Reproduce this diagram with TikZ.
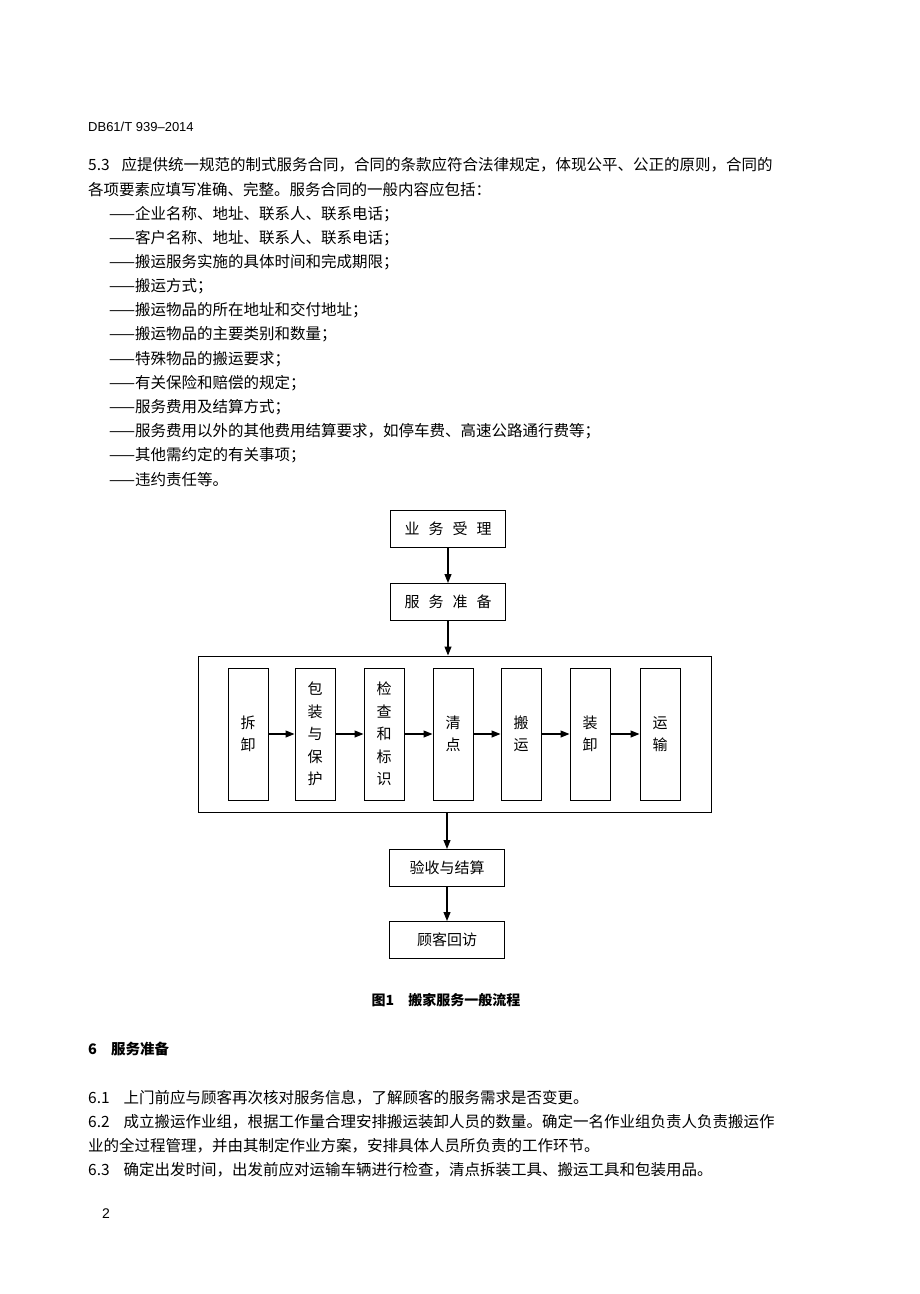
\documentclass[tikz,border=0pt]{standalone}
\usepackage{fontspec}
\setmainfont{Liberation Sans}
\newfontfamily\cjk{Noto Sans CJK SC}
\usetikzlibrary{arrows.meta}
\begin{document}
\begin{tikzpicture}[x=1pt,y=-1pt,
  txt/.style={anchor=west,inner sep=0pt,font=\fontsize{15.5}{16}\cjk},
  box/.style={draw,line width=1pt,minimum width=115pt,minimum height=37pt,inner sep=0pt,font=\fontsize{15}{16}\cjk},
  stepbox/.style={draw,line width=1pt,minimum width=40pt,minimum height=132pt,inner sep=0pt,align=center,font=\fontsize{15}{22.5}\cjk},
  arr/.style={-{Triangle[length=9pt,width=7pt]},line width=1.1pt}]
\useasboundingbox (0,0) rectangle (920,1294);
\node[anchor=west,inner sep=0pt,font=\fontsize{13}{14}\selectfont] (hd) at (88,127) {DB61/T 939--2014};
\node[txt] (p1) at (88,165) {5.3\hspace{12pt}应提供统一规范的制式服务合同，合同的条款应符合法律规定，体现公平、公正的原则，合同的};
\node[txt] (p2) at (88,190) {各项要素应填写准确、完整。服务合同的一般内容应包括：};
\foreach \t [count=\i] in {企业名称、地址、联系人、联系电话；,客户名称、地址、联系人、联系电话；,搬运服务实施的具体时间和完成期限；,搬运方式；,搬运物品的所在地址和交付地址；,搬运物品的主要类别和数量；,特殊物品的搬运要求；,有关保险和赔偿的规定；,服务费用及结算方式；,服务费用以外的其他费用结算要求，如停车费、高速公路通行费等；,其他需约定的有关事项；,违约责任等。}
  \node[txt] (li\i) at (109,190+24.1*\i) {——\t};
% flowchart
\node[box] (a) at (448,529) {业\hspace{9pt}务\hspace{9pt}受\hspace{9pt}理};
\node[box] (b) at (448,602) {服\hspace{9pt}务\hspace{9pt}准\hspace{9pt}备};
\node[draw,line width=1pt,minimum width=513pt,minimum height=156pt,inner sep=0pt] (big) at (454.5,734) {};
\node[stepbox] (s1) at (248,734) {拆\\卸};
\node[stepbox] (s2) at (315,734) {包\\装\\与\\保\\护};
\node[stepbox] (s3) at (384,734) {检\\查\\和\\标\\识};
\node[stepbox] (s4) at (453,734) {清\\点};
\node[stepbox] (s5) at (521,734) {搬\\运};
\node[stepbox] (s6) at (590,734) {装\\卸};
\node[stepbox] (s7) at (660,734) {运\\输};
\foreach \p/\q in {s1/s2,s2/s3,s3/s4,s4/s5,s5/s6,s6/s7} \draw[arr] (\p) -- (\q);
\node[box] (c) at (447,868) {验收与结算};
\node[box] (d) at (447,940) {顾客回访};
\draw[arr] (a) -- (b);
\draw[arr] (b.south) -- (b.south|-big.north);
\draw[arr] (c.north|-big.south) -- (c.north);
\draw[arr] (c) -- (d);
\node[inner sep=0pt,font=\fontsize{14}{15}\cjk\bfseries] (cap) at (446,1000) {图1\hspace{14pt}搬家服务一般流程};
\node[txt,font=\fontsize{14.5}{15}\cjk\bfseries] (h6) at (88,1049) {6\hspace{14pt}服务准备};
\node[txt] (q1) at (88,1098) {6.1\hspace{14pt}上门前应与顾客再次核对服务信息，了解顾客的服务需求是否变更。};
\node[txt] (q2) at (88,1122) {6.2\hspace{14pt}成立搬运作业组，根据工作量合理安排搬运装卸人员的数量。确定一名作业组负责人负责搬运作};
\node[txt] (q3) at (88,1146) {业的全过程管理，并由其制定作业方案，安排具体人员所负责的工作环节。};
\node[txt] (q4) at (88,1170) {6.3\hspace{14pt}确定出发时间，出发前应对运输车辆进行检查，清点拆装工具、搬运工具和包装用品。};
\node[anchor=west,inner sep=0pt,font=\fontsize{14}{15}\selectfont] (pg) at (102,1214) {2};
\end{tikzpicture}
\end{document}
